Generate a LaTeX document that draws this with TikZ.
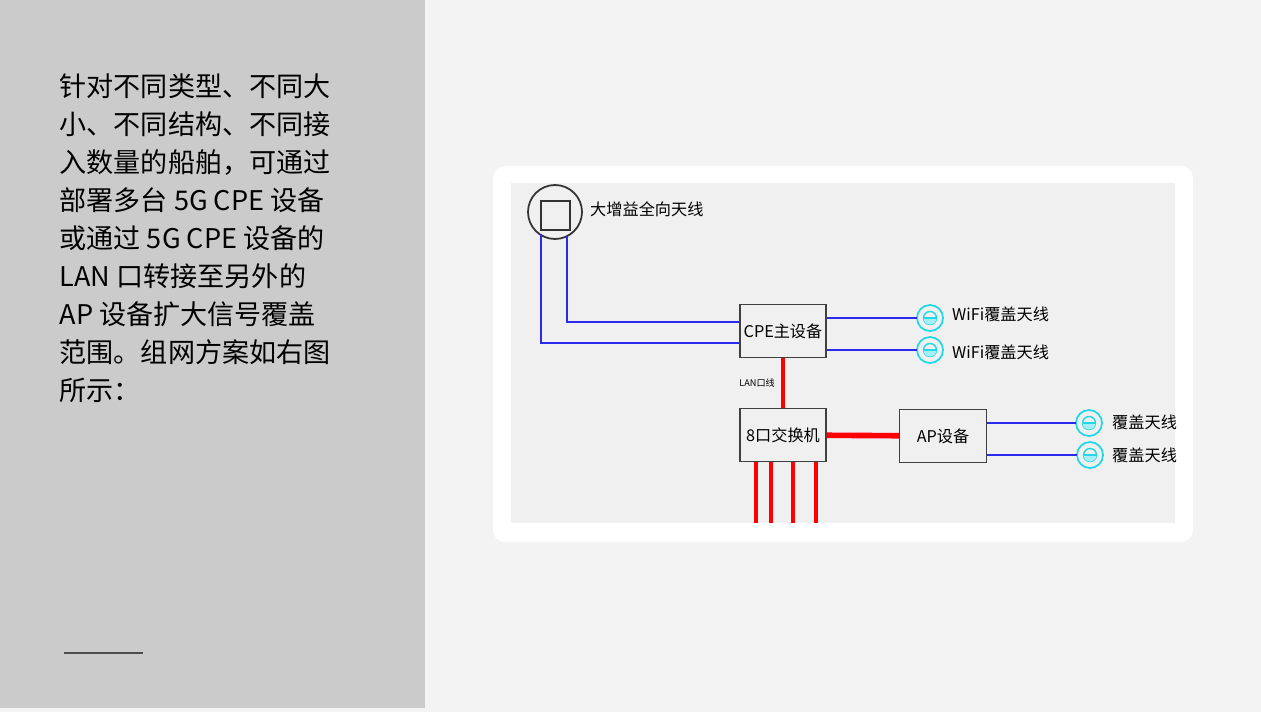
\documentclass[tikz,border=0pt]{standalone}
\usepackage{fontspec}
\setmainfont{Noto Sans CJK SC}
\usetikzlibrary{positioning}
\usetikzlibrary{calc}
\definecolor{panel}{HTML}{CBCBCB}
\definecolor{paper}{HTML}{F3F3F3}
\definecolor{sheet}{HTML}{F0F0F0}
\definecolor{wire}{HTML}{2B2BF0}
\definecolor{ant}{HTML}{22D8E8}
\tikzset{dev/.style = {draw = black!75, fill = sheet, minimum width = 0.86cm, minimum height = 0.53cm, inner sep = 0, font = \fontsize{4.6}{5}\selectfont},
  blue wire/.style = {wire, line width = 0.5pt},
  red wire/.style = {red, line width = 1.1pt},
  lbl/.style = {right, inner sep = 1pt, font = \fontsize{4.6}{5}\selectfont}}
\newcommand{\antsym}[2]{%
  \draw [ant, line width = 0.5pt] (#1) circle [radius = 13];
  \draw [ant, line width = 0.4pt] (#1) circle [radius = 6.5];
  \fill [ant!40] ($(#1)+(-6.5,0)$) arc [start angle = 180, end angle = 0, radius = 6.5] -- cycle;
  \draw [ant, line width = 0.4pt] ($(#1)+(-6.5,0)$) -- ($(#1)+(6.5,0)$);
  \coordinate (#2) at ($(#1)+(-13,0)$);}
\begin{document}
\begin{tikzpicture}[x = 0.01cm, y = -0.01cm]
    \useasboundingbox (0, 0) rectangle (1261, 712);
    \fill [paper] (0, 0) rectangle (1261, 712);
    \fill [panel] (0, 0) rectangle (425, 708);

    % text on the left
    \node [anchor = north west, align = left, inner sep = 0, font = \fontsize{7.7}{10.8}\selectfont]
      (intro) at (59, 73) {针对不同类型、不同大\\小、不同结构、不同接\\入数量的船舶，可通过\\部署多台 5G CPE 设备\\或通过 5G CPE 设备的\\LAN 口转接至另外的\\AP 设备扩大信号覆盖\\范围。组网方案如右图\\所示：};
    \draw [black!70, line width = 0.4pt] (64, 653) -- (143, 653);

    % card
    \fill [white, rounded corners = 0.12cm] (493, 166) rectangle (1193, 542);
    \fill [sheet] (511, 183) rectangle (1175, 523);

    % main antenna
    \draw [black!80, line width = 0.5pt] (555, 212) circle [radius = 27];
    \draw [black!80, line width = 0.5pt] (541, 201) rectangle (570, 230);
    \node [lbl] (mainlbl) at (586, 209) {大增益全向天线};
    \coordinate (ma) at (541, 234);
    \coordinate (mb) at (567, 236);

    % devices
    \node [dev] (cpe) at (783, 331) {CPE主设备};
    \node [dev] (sw) at (783, 435) {8口交换机};
    \node [dev, minimum width = 0.87cm] (ap) at (943, 436) {AP设备};

    \draw [blue wire] (ma) |- (cpe.west |- 0, 343);
    \draw [blue wire] (mb) |- (cpe.west |- 0, 322);

    % coverage antennas
    \antsym{930,318}{w1}
    \antsym{930,350}{w2}
    \antsym{1089,423}{c1}
    \antsym{1090,455}{c2}
    \draw [blue wire] (cpe.east |- w1) -- (w1);
    \draw [blue wire] (cpe.east |- w2) -- (w2);
    \draw [blue wire] (ap.east |- c1) -- (c1);
    \draw [blue wire] (ap.east |- c2) -- (c2);
    \node [lbl] (w1lbl) at (948, 314) {WiFi覆盖天线};
    \node [lbl] (w2lbl) at (948, 352) {WiFi覆盖天线};
    \node [lbl] (c1lbl) at (1108, 422) {覆盖天线};
    \node [lbl] (c2lbl) at (1108, 455) {覆盖天线};

    % red lines
    \draw [red wire] (cpe) -- (sw);
    \node [left, inner sep = 1pt, font = \fontsize{2.6}{3}\selectfont] (lan) at (779, 383) {LAN口线};
    \draw [red, line width = 1.6pt] (sw) -- (ap);
    \foreach \x in {756, 771, 793, 816}
      \draw [red wire] (\x, 462) -- (\x, 523);
  \end{tikzpicture}
\end{document}
